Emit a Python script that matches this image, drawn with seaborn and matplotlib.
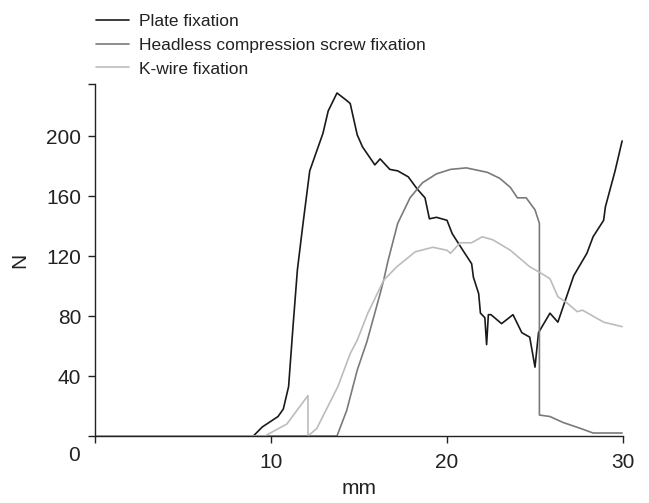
import seaborn as sns
import pandas as pd
import matplotlib.pyplot as plt

# Load-displacement curves (mm, N)
plate_mm = [0, 9.0, 9.5, 10.4, 10.7, 11.0, 11.25, 11.5, 11.8, 12.2, 12.95, 13.25, 13.75,
            14.3, 14.5, 14.9, 15.2, 15.9, 16.2, 16.75, 17.2, 17.8, 18.3, 18.75, 19.0,
            19.4, 20.0, 20.3, 20.9, 21.4, 21.5, 21.8, 21.9, 22.15, 22.25, 22.35, 22.5,
            23.1, 23.75, 24.25, 24.7, 25.0, 25.2, 25.85, 26.3, 27.2, 27.95, 28.3, 28.9,
            29.0, 29.55, 29.95]
plate_n = [0, 0, 6, 13, 18, 33, 73, 111, 140, 177, 202, 217, 229,
           224, 222, 201, 193, 181, 185, 178, 177, 173, 165, 159, 145,
           146, 144, 135, 124, 115, 106, 95, 82, 79, 61, 81, 81,
           75, 81, 69, 66, 46, 69, 82, 76, 107, 122, 133, 144,
           153, 177, 197]

screw_mm = [0, 13.75, 14.3, 14.5, 14.9, 15.45, 16.2, 16.4, 16.65, 17.2, 17.9, 18.6,
            19.4, 20.2, 21.1, 22.3, 23.0, 23.6, 24.0, 24.5, 25.0, 25.25, 25.25,
            25.85, 26.6, 27.6, 28.3, 29.1, 29.95]
screw_n = [0, 0, 17, 26, 44, 63, 95, 104, 117, 142, 159, 169,
           175, 178, 179, 176, 172, 166, 159, 159, 151, 142, 14,
           13, 9, 5, 2, 2, 2]

kwire_mm = [0, 9.65, 10.9, 12.1, 12.1, 12.6, 13.8, 14.5, 14.9, 15.5, 16.2, 16.4, 17.15,
            18.2, 19.2, 20.0, 20.2, 20.75, 21.4, 22.0, 22.6, 23.6, 24.7, 25.3, 25.85,
            26.3, 26.8, 27.4, 27.7, 28.9, 29.95]
kwire_n = [0, 0, 8, 27, 0, 5, 33, 55, 64, 82, 99, 104, 113,
           123, 126, 124, 122, 129, 129, 133, 131, 124, 113, 109, 105,
           93, 89, 83, 84, 76, 73]

series = ['Plate fixation', 'Headless compression screw fixation', 'K-wire fixation']
colors = ['#1a1a1a', '#7a7a7a', '#bcbcbc']

df = pd.concat([
    pd.DataFrame({'mm': plate_mm, 'N': plate_n, 'grupo': series[0]}),
    pd.DataFrame({'mm': screw_mm, 'N': screw_n, 'grupo': series[1]}),
    pd.DataFrame({'mm': kwire_mm, 'N': kwire_n, 'grupo': series[2]}),
])

sns.set_style("ticks")
plt.rcParams['font.family'] = ['Liberation Sans', 'DejaVu Sans']

fig = plt.figure(figsize=(6.49, 5.03), dpi=100)
ax = fig.add_axes([95 / 649, 1 - 436 / 503, (623 - 95) / 649, (436 - 84) / 503])

for nome, cor in zip(series, colors):
    sub = df[df['grupo'] == nome]
    sns.lineplot(data=sub, x='mm', y='N', color=cor, label=nome, ax=ax,
                 estimator=None, sort=False, linewidth=1.2)

ax.set_xlim(0, 30)
ax.set_ylim(0, 235)
ax.set_xticks([0, 10, 20, 30])
ax.set_xticklabels(['', '10', '20', '30'])
ax.set_yticks([0, 40, 80, 120, 160, 200, 235])
ax.set_yticklabels(['', '40', '80', '120', '160', '200', ''])
ax.tick_params(labelsize=15, length=5, width=1, color='#222222', labelcolor='#222222')
ax.tick_params(axis='y', pad=5)
ax.tick_params(axis='x', pad=7)
for s in ['top', 'right']:
    ax.spines[s].set_visible(False)
for s in ['left', 'bottom']:
    ax.spines[s].set_color('#222222')
    ax.spines[s].set_linewidth(1)

ax.set_xlabel('mm', fontsize=15, labelpad=5, color='#222222')
ax.set_ylabel('N', fontsize=15, labelpad=12, color='#222222')
ax.text(-1.2, -12.7, '0', fontsize=15, ha='center', va='center', clip_on=False,
        color='#222222')

ax.get_legend().remove()
h, l = ax.get_legend_handles_labels()
fig.legend(h, l, loc='upper left', bbox_to_anchor=(0.135, 0.99), frameon=False,
           fontsize=12.5, handlelength=1.9, handletextpad=0.55, labelspacing=0.5,
           borderaxespad=0.1, labelcolor='#222222')

plt.savefig('out.png', dpi=100)
